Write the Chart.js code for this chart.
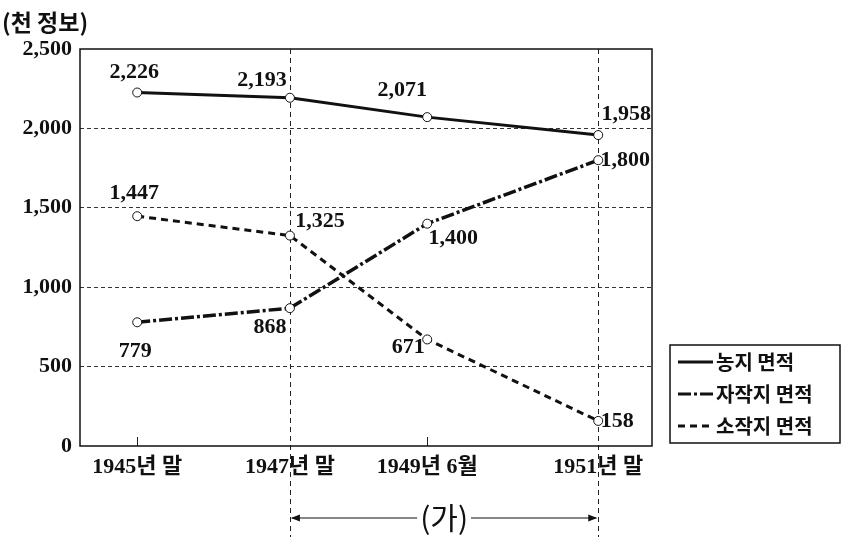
<!DOCTYPE html>
<html>
<head>
<meta charset="utf-8">
<script src="https://cdn.jsdelivr.net/npm/chart.js@4/dist/chart.umd.min.js"></script>
<style>
  html, body { margin: 0; padding: 0; background: #fff; }
  #wrap { width: 847px; height: 547px; }
</style>
</head>
<body>
<div id="wrap"><canvas id="myChart" width="847" height="547"></canvas></div>
<script>
// datos
var etiquetasX = ['1945년 말', '1947년 말', '1949년 6월', '1951년 말'];
var posicionX = [10, 36.7, 60.7, 90.6]; // posicion relativa en el eje (0-100)
var nongji = [2226, 2193, 2071, 1958];
var jajakji = [779, 868, 1400, 1800];
var sojakji = [1447, 1325, 671, 158];
var ticksY = [0, 500, 1000, 1500, 2000, 2500];
var nombresSeries = ['농지 면적', '자작지 면적', '소작지 면적'];
var unidad = '(천 정보)';
var marcaPeriodo = '(가)';

// desplazamiento de las etiquetas de cada punto (dx, dy)
var offsetsEtiquetas = [
  [[-3, -20], [-28, -17], [-25, -27], [28, -21]],
  [[-2, 29], [-20, 19], [26, 15], [27, 0]],
  [[-3, -23], [30, -14], [-19, 8], [19, 0]]
];

var fuenteNum = "'Liberation Serif', 'Noto Sans CJK KR', serif";
var fuenteKor = "'Noto Sans CJK KR', 'Noto Sans', sans-serif";

function aPuntos(valores) {
  return valores.map(function(v, i) { return { x: posicionX[i], y: v }; });
}

function formatoMiles(v) {
  return v.toLocaleString('en-US');
}

var pluginDibujo = {
  id: 'dibujoExtra',
  beforeDatasetsDraw: function(chart) {
    var ctx = chart.ctx;
    var area = chart.chartArea;
    var sx = chart.scales.x;
    ctx.save();
    // lineas verticales discontinuas (1947, 1951)
    ctx.strokeStyle = '#222';
    ctx.lineWidth = 1;
    ctx.setLineDash([5, 4]);
    [1, 3].forEach(function(i) {
      var x = Math.round(sx.getPixelForValue(posicionX[i])) + 0.5;
      ctx.beginPath();
      ctx.moveTo(x, area.top);
      ctx.lineTo(x, 537);
      ctx.stroke();
    });
    ctx.setLineDash([]);
    // marcas pequeñas en 1945 y 1949
    [0, 2].forEach(function(i) {
      var x = Math.round(sx.getPixelForValue(posicionX[i])) + 0.5;
      ctx.beginPath();
      ctx.moveTo(x, area.bottom);
      ctx.lineTo(x, area.bottom - 9);
      ctx.stroke();
    });
    // caja del grafico
    ctx.lineWidth = 1.5;
    ctx.strokeStyle = '#111';
    ctx.strokeRect(area.left, area.top, area.right - area.left, area.bottom - area.top);
    ctx.restore();
  },
  afterDatasetsDraw: function(chart) {
    var ctx = chart.ctx;
    var sx = chart.scales.x;
    ctx.save();
    // etiquetas de valores
    ctx.fillStyle = '#111';
    ctx.font = 'bold 22px ' + fuenteNum;
    ctx.textAlign = 'center';
    ctx.textBaseline = 'middle';
    chart.data.datasets.forEach(function(ds, d) {
      var meta = chart.getDatasetMeta(d);
      meta.data.forEach(function(p, j) {
        var off = offsetsEtiquetas[d][j];
        ctx.fillText(formatoMiles(ds.data[j].y), p.x + off[0], p.y + off[1]);
      });
    });

    // unidad
    ctx.textAlign = 'left';
    ctx.font = 'bold 23px ' + fuenteKor;
    ctx.fillText(unidad, 2, 22);

    // flecha (가)
    var x1 = sx.getPixelForValue(posicionX[1]);
    var x2 = sx.getPixelForValue(posicionX[3]);
    var ya = 518;
    var xm = (x1 + x2) / 2;
    ctx.font = '30px ' + fuenteKor;
    ctx.textAlign = 'center';
    var anchoTxt = ctx.measureText(marcaPeriodo).width + 6;
    ctx.fillText(marcaPeriodo, xm, ya);
    ctx.strokeStyle = '#111';
    ctx.lineWidth = 1.2;
    ctx.beginPath();
    ctx.moveTo(x1 + 2, ya);
    ctx.lineTo(xm - anchoTxt / 2, ya);
    ctx.moveTo(xm + anchoTxt / 2, ya);
    ctx.lineTo(x2 - 2, ya);
    ctx.stroke();
    ctx.beginPath();
    ctx.moveTo(x1 + 1, ya); ctx.lineTo(x1 + 10, ya - 3.5); ctx.lineTo(x1 + 10, ya + 3.5); ctx.closePath();
    ctx.moveTo(x2 - 1, ya); ctx.lineTo(x2 - 10, ya - 3.5); ctx.lineTo(x2 - 10, ya + 3.5); ctx.closePath();
    ctx.fill();

    // leyenda
    var lx = 670, ly = 345, lw = 170, lh = 98;
    ctx.lineWidth = 1.5;
    ctx.strokeRect(lx, ly, lw, lh);
    ctx.font = 'bold 20px ' + fuenteKor;
    ctx.textAlign = 'left';
    chart.data.datasets.forEach(function(ds, d) {
      var yy = ly + 17 + d * 32;
      ctx.lineWidth = 3;
      ctx.setLineDash(ds.borderDash || []);
      ctx.beginPath();
      ctx.moveTo(lx + 8, yy);
      ctx.lineTo(lx + 43, yy);
      ctx.stroke();
      ctx.setLineDash([]);
      ctx.fillText(nombresSeries[d], lx + 46, yy);
    });
    ctx.restore();
  }
};

var dataGrafico = {
  datasets: [
    {
      label: nombresSeries[0],
      data: aPuntos(nongji),
      borderColor: '#111',
      borderWidth: 3,
      borderDash: []
    },
    {
      label: nombresSeries[1],
      data: aPuntos(jajakji),
      borderColor: '#111',
      borderWidth: 3.5,
      borderDash: [13, 3, 3, 3]
    },
    {
      label: nombresSeries[2],
      data: aPuntos(sojakji),
      borderColor: '#111',
      borderWidth: 3,
      borderDash: [7, 5]
    }
  ]
};

dataGrafico.datasets.forEach(function(ds) {
  ds.pointRadius = 4.5;
  ds.pointBorderWidth = 1;
  ds.pointBorderColor = '#111';
  ds.pointBackgroundColor = '#fff';
});

var opciones = {
  responsive: false,
  animation: false,
  layout: { padding: { top: 49, right: 195, left: 0, bottom: 0 } },
  elements: {
    line: { tension: 0, fill: false }
  },
  scales: {
    x: {
      type: 'linear',
      min: 0,
      max: 100,
      afterBuildTicks: function(scale) {
        scale.ticks = posicionX.map(function(v) { return { value: v }; });
      },
      afterFit: function(scale) { scale.height = 101; },
      grid: { display: false, drawTicks: false },
      border: { display: false },
      ticks: {
        padding: 8,
        color: '#111',
        maxRotation: 0,
        autoSkip: false,
        font: { family: fuenteNum, size: 22, weight: 'bold' },
        callback: function(v) { return etiquetasX[posicionX.indexOf(v)]; }
      }
    },
    y: {
      min: 0,
      max: 2500,
      afterBuildTicks: function(scale) {
        scale.ticks = ticksY.map(function(v) { return { value: v }; });
      },
      afterFit: function(scale) { scale.width = 80; },
      grid: {
        drawTicks: false,
        lineWidth: 1,
        color: function(c) {
          var v = c.tick ? c.tick.value : 0;
          return (v > 0 && v < 2500) ? '#333' : 'rgba(0,0,0,0)';
        }
      },
      border: { display: false, dash: [4, 3] },
      ticks: {
        padding: 8,
        color: '#111',
        font: { family: fuenteNum, size: 22, weight: 'bold' },
        callback: function(v) { return formatoMiles(v); }
      }
    }
  },
  plugins: {
    legend: { display: false },
    tooltip: { enabled: false }
  }
};

var ctx = document.getElementById('myChart').getContext('2d');
var grafico = new Chart(ctx, {
  type: 'line',
  data: dataGrafico,
  options: opciones,
  plugins: [pluginDibujo]
});
</script>
</body>
</html>
